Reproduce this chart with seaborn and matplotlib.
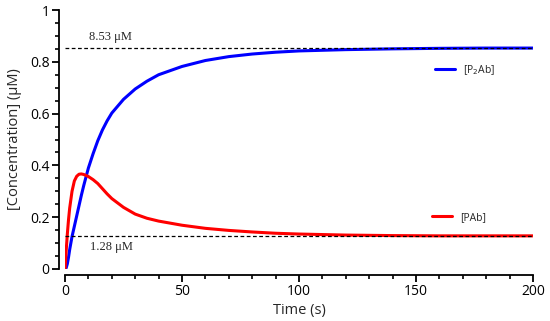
import numpy as np
import pandas as pd
import matplotlib
matplotlib.use("Agg")
import matplotlib.pyplot as plt
import seaborn as sns
from matplotlib.lines import Line2D
from matplotlib.ticker import MultipleLocator

# ---- data ----
time = [0, 0.5, 1, 1.5, 2, 3, 4, 5, 6, 7, 8, 10, 12, 14, 16, 18, 20, 25, 30, 35,
        40, 50, 60, 70, 80, 90, 100, 120, 140, 160, 180, 200]
p2ab = [0, 0.004, 0.02, 0.045, 0.075, 0.125, 0.165, 0.205, 0.245, 0.285, 0.322, 0.39,
        0.445, 0.495, 0.537, 0.572, 0.602, 0.655, 0.695, 0.725, 0.75, 0.782, 0.805,
        0.82, 0.83, 0.837, 0.842, 0.847, 0.85, 0.852, 0.853, 0.853]
pab = [0, 0.07, 0.135, 0.19, 0.235, 0.30, 0.34, 0.358, 0.366, 0.367, 0.365, 0.357,
       0.345, 0.33, 0.31, 0.29, 0.272, 0.238, 0.212, 0.196, 0.185, 0.169, 0.157,
       0.149, 0.143, 0.138, 0.135, 0.131, 0.129, 0.128, 0.128, 0.128]
series_names = ["[P$_2$Ab]", "[PAb]"]
series_colors = ["#0000ff", "#ff0000"]
eq_levels = [0.853, 0.128]
eq_labels = ["8.53 \u03bcM", "1.28 \u03bcM"]
x_ticks = [0, 50, 100, 150, 200]
y_ticks = [0, 0.2, 0.4, 0.6, 0.8, 1]

df = pd.concat([
    pd.DataFrame({"t": time, "c": p2ab, "s": series_names[0]}),
    pd.DataFrame({"t": time, "c": pab, "s": series_names[1]}),
])

sns.set_style("ticks")
plt.rcParams["font.family"] = ["Open Sans", "DejaVu Sans"]

fig = plt.figure(figsize=(5.5, 3.21), dpi=100)
ax = fig.add_axes([65 / 550, 52 / 321, 468 / 550, 259 / 321])

sns.lineplot(data=df, x="t", y="c", hue="s", palette=series_colors,
             linewidth=2.2, ax=ax, legend=False, sort=False)
for ln in ax.get_lines():
    ln.set_solid_joinstyle("round")
    ln.set_solid_capstyle("round")

for lvl in eq_levels:
    ax.axhline(lvl, color="black", linestyle=(0, (3, 2)), linewidth=0.9, zorder=3)

ax.text(10.3, 0.895, eq_labels[0], family="Liberation Serif", fontsize=9,
        va="center", ha="left")
ax.text(10.5, 0.085, eq_labels[1], family="Liberation Serif", fontsize=9,
        va="center", ha="left")

ax.set_xlim(0, 200)
ax.set_ylim(0, 1)
ax.xaxis.set_minor_locator(MultipleLocator(10))
ax.yaxis.set_minor_locator(MultipleLocator(0.05))
ax.set_xticks(x_ticks)
ax.set_yticks(y_ticks)
ax.set_yticklabels(["%g" % v for v in y_ticks])
ax.set_xticklabels(["%g" % v for v in x_ticks])

for side in ["top", "right"]:
    ax.spines[side].set_visible(False)
ax.spines["left"].set_position(("outward", 4))
ax.spines["bottom"].set_position(("outward", 4))
for side in ["left", "bottom"]:
    ax.spines[side].set_linewidth(1.3)
    ax.spines[side].set_color("black")
ax.tick_params(which="major", length=5, width=1.3, direction="out",
               labelsize=10, colors="black", pad=2)
ax.tick_params(which="minor", length=3, width=1.2, direction="out", colors="black")

ax.set_xlabel("Time (s)", fontsize=10.5, labelpad=3)
ax.set_ylabel("[Concentration] (\u03bcM)", fontsize=10.5, labelpad=6)

h1 = [Line2D([], [], color=series_colors[0], linewidth=2.2)]
h2 = [Line2D([], [], color=series_colors[1], linewidth=2.2)]
leg1 = ax.legend(h1, [series_names[0]], loc="center left",
                 bbox_to_anchor=(0.77, 0.768), frameon=False, fontsize=7.5,
                 handlelength=1.9, handletextpad=0.8)
ax.add_artist(leg1)
ax.legend(h2, [series_names[1]], loc="center left",
          bbox_to_anchor=(0.765, 0.2), frameon=False, fontsize=7.5,
          handlelength=1.9, handletextpad=0.8)

fig.savefig("out.png", dpi=100)
